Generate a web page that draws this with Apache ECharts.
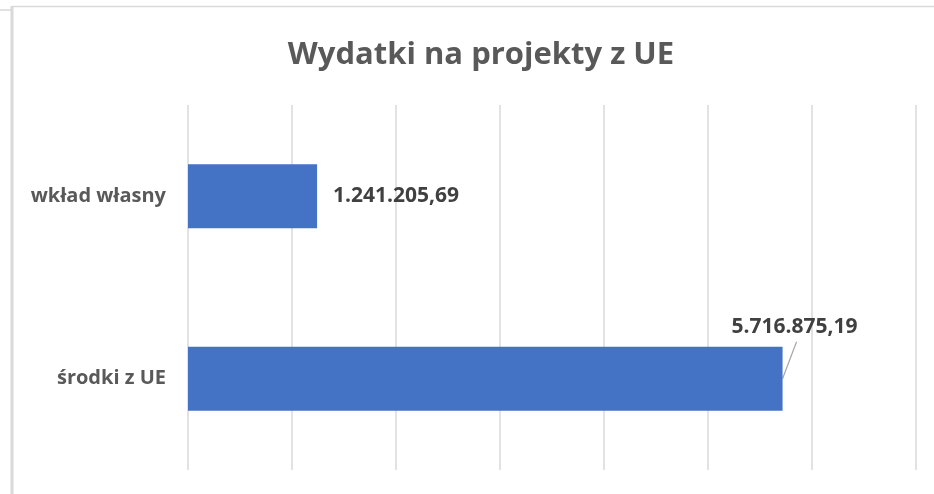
<!DOCTYPE html>
<html>
<head>
<meta charset="utf-8">
<script src="https://cdn.jsdelivr.net/npm/echarts@6/dist/echarts.min.js"></script>
<style>
  html, body { margin: 0; padding: 0; background: #fff; }
  #chart { width: 934px; height: 494px; }
</style>
</head>
<body>
<div id="chart"></div>
<script>
// data
var categories = ['wkład własny', 'środki z UE'];
var values = [1241205.69, 5716875.19];

function fmtPl(v) {
  var parts = v.toFixed(2).split('.');
  return parts[0].replace(/\B(?=(\d{3})+(?!\d))/g, '.') + ',' + parts[1];
}

var chart = echarts.init(document.getElementById('chart'));
chart.setOption({
  animation: false,
  textStyle: { fontFamily: 'Open Sans' },
  title: {
    text: 'Wydatki na projekty z UE',
    left: 476,
    textAlign: 'center',
    top: 35,
    textStyle: { fontSize: 31, fontWeight: 'bold', color: '#595959', fontFamily: 'Open Sans' }
  },
  graphic: [
    { type: 'line', shape: { x1: 12, y1: 6.5, x2: 934, y2: 6.5 }, style: { stroke: '#d9d9d9', lineWidth: 1.5 } },
    { type: 'line', shape: { x1: 12, y1: 6, x2: 12, y2: 494 }, style: { stroke: '#d9d9d9', lineWidth: 3 } },
    { type: 'line', shape: { x1: 0, y1: 10, x2: 11, y2: 10 }, style: { stroke: '#d9d9d9', lineWidth: 1.5 } }
  ],
  grid: { left: 188, right: 18, top: 105, bottom: 24 },
  xAxis: {
    type: 'value',
    min: 0,
    max: 7000000,
    interval: 1000000,
    axisLabel: { show: false },
    axisLine: { show: false },
    axisTick: { show: false },
    splitLine: { lineStyle: { color: '#d9d9d9', width: 1.5 } }
  },
  yAxis: {
    type: 'category',
    inverse: true,
    data: categories,
    axisLine: { show: false },
    axisTick: { show: false },
    axisLabel: { margin: 22, fontSize: 20, fontWeight: 'bold', color: '#595959', fontFamily: 'Open Sans' }
  },
  series: [{
    type: 'bar',
    data: values,
    barWidth: 64,
    itemStyle: { color: '#4472c4' },
    label: {
      show: true,
      position: 'right',
      distance: 16,
      formatter: function (p) { return fmtPl(p.value); },
      fontSize: 21,
      fontWeight: 'bold',
      color: '#404040',
      fontFamily: 'Open Sans'
    },
    labelLayout: function (params) {
      if (params.dataIndex === 1) {
        return { x: params.rect.x + params.rect.width - 51, y: params.rect.y - 30 };
      }
      return {};
    }
  }]
});

// leader line from the end of the big bar up to its label
var end = chart.convertToPixel({ gridIndex: 0 }, [values[1], 1]);
chart.setOption({
  graphic: [
    { type: 'line', shape: { x1: 12, y1: 6.5, x2: 934, y2: 6.5 }, style: { stroke: '#d9d9d9', lineWidth: 1.5 } },
    { type: 'line', shape: { x1: 12, y1: 6, x2: 12, y2: 494 }, style: { stroke: '#d9d9d9', lineWidth: 3 } },
    { type: 'line', shape: { x1: 0, y1: 10, x2: 11, y2: 10 }, style: { stroke: '#d9d9d9', lineWidth: 1.5 } },
    { type: 'line', shape: { x1: end[0], y1: end[1], x2: end[0] + 14, y2: end[1] - 37 }, style: { stroke: '#a6a6a6', lineWidth: 1.2 } }
  ]
});
</script>
</body>
</html>
